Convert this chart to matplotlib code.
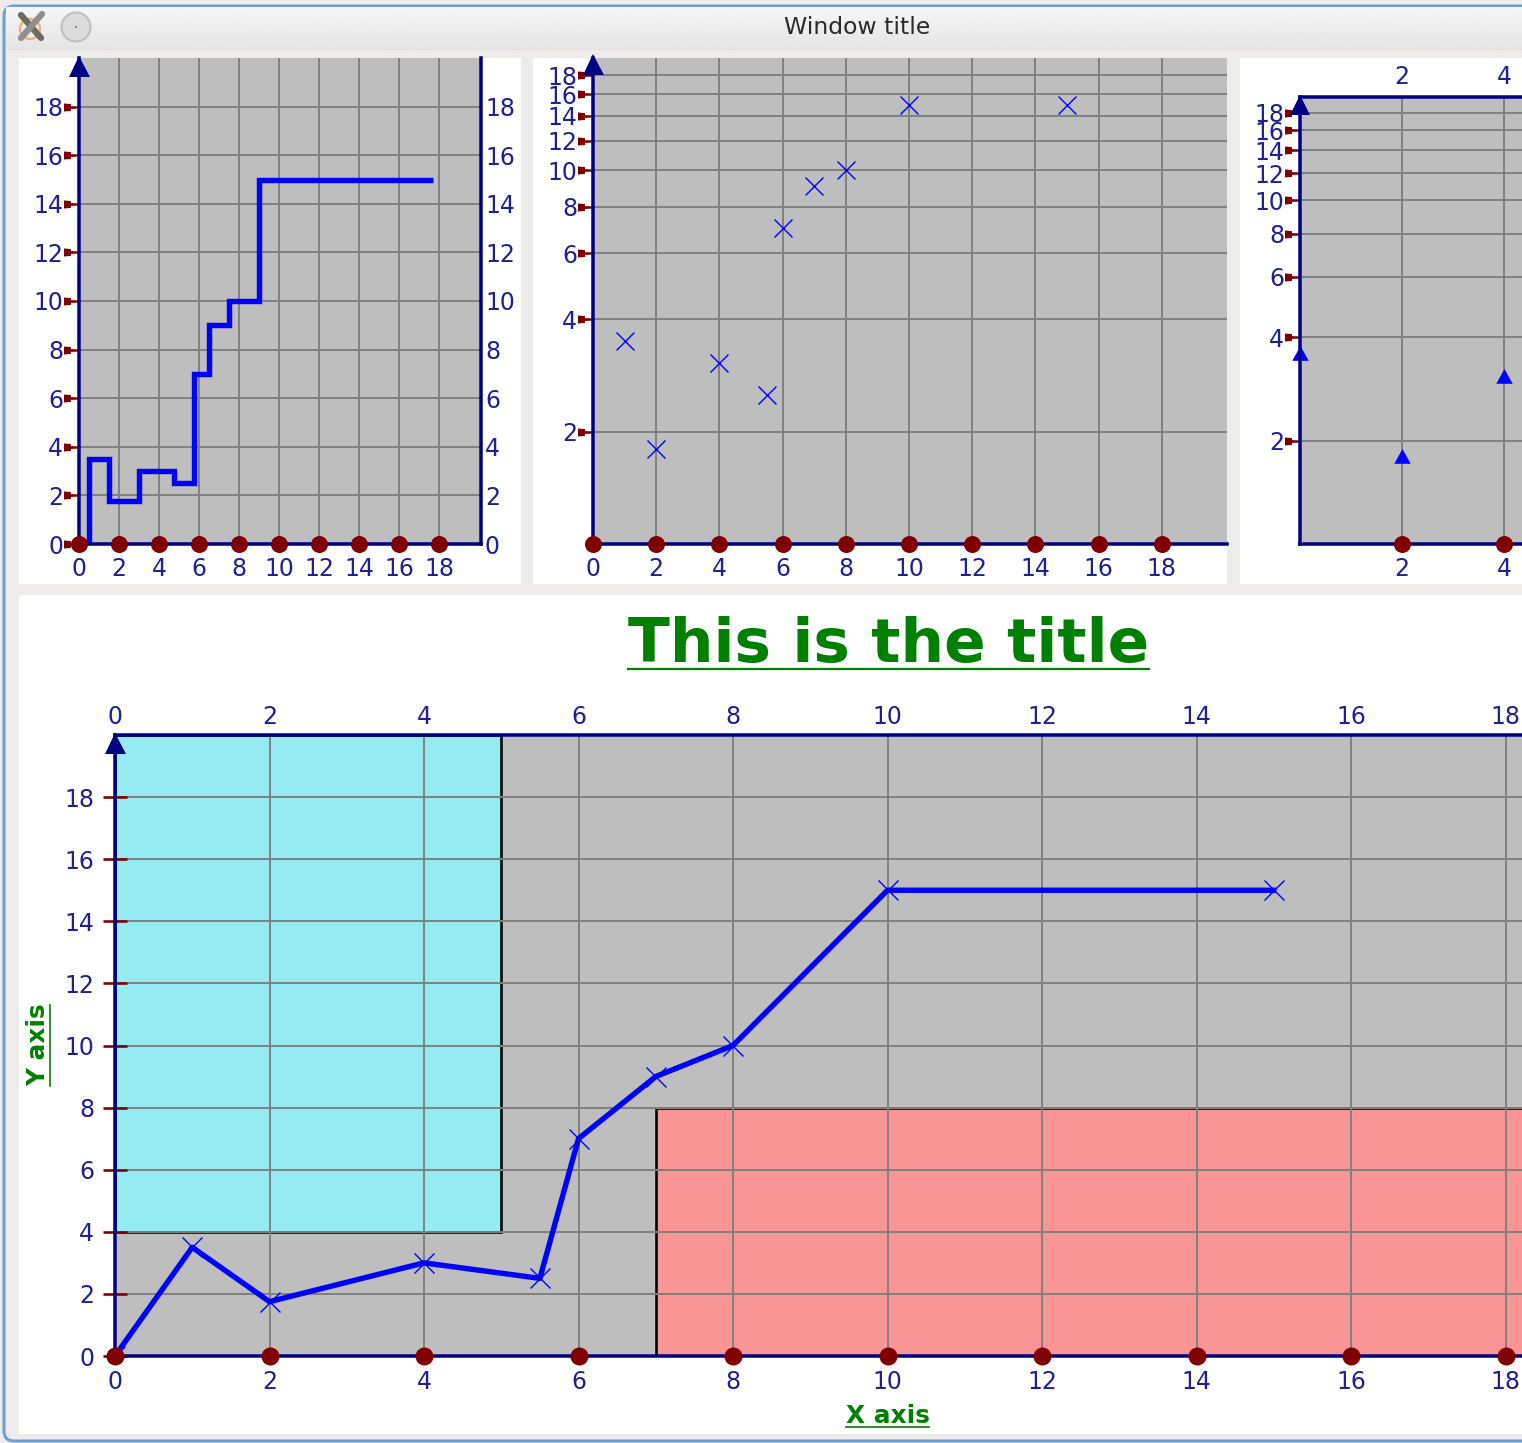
import numpy as np
import matplotlib
matplotlib.use("Agg")
import matplotlib.pyplot as plt
from matplotlib.path import Path
from matplotlib.patches import Rectangle, Circle, FancyBboxPatch
from matplotlib.lines import Line2D
from matplotlib.ticker import NullLocator, FixedLocator, FixedFormatter
from matplotlib.transforms import ScaledTranslation

plt.rcParams['font.family'] = ['DejaVu Sans']

# ---------- data ----------
x_values = [0, 1, 2, 4, 5.5, 6, 7, 8, 10, 15]
y_values = [0, 3.5, 1.75, 3, 2.5, 7, 9, 10, 15, 15]
step_edges = [0, 0.5, 1.5, 3, 4.75, 5.75, 6.5, 7.5, 9, 17.7]
step_levels = [0, 3.5, 1.75, 3, 2.5, 7, 9, 10, 15]
scatter_x = [1, 2, 4, 5.5, 6, 7, 8, 10, 15]
scatter_y = [3.5, 1.8, 3.05, 2.5, 7, 9.1, 10, 15, 15]
triangle_y = [3.5, 1.75, 3, 2.5, 7, 9, 10, 15, 15]
ticks = [0, 2, 4, 6, 8, 10, 12, 14, 16, 18]
ticks_no_zero = ticks[1:]
loglog_xticks = [2, 4]
region_cyan = (0, 4, 5, 16)
region_red = (7, 0, 13, 8)

W, H = 1522, 1443
NAVY = '#000080'; DARKRED = '#800000'; BLUE = '#0000ff'; GRID = '#808080'
BG = '#bebebe'; LABEL = '#20208f'; GREEN = '#008000'; WIN = '#edecea'
FS = 17
PX = 72 / 100

fig = plt.figure(figsize=(W / 100, H / 100), dpi=100, facecolor=WIN)

# ---------- window chrome ----------
bg = fig.add_axes([0, 0, 1, 1], zorder=-5)
bg.set_xlim(0, W); bg.set_ylim(H, 0); bg.axis('off')
bg.add_patch(FancyBboxPatch((4, 6), W + 40, H - 8, boxstyle='round,pad=0,rounding_size=10',
                            fc=WIN, ec='#6f9fd0', lw=2.2))
grad = np.linspace(0.965, 0.895, 60)[:, None]
bg.imshow(grad, extent=(6, W, 50, 7), cmap='gray', vmin=0, vmax=1, aspect='auto', zorder=1)
bg.set_xlim(0, W); bg.set_ylim(H, 0)
for (x0, y0, x1, y1) in [(19, 58, 521, 584), (533, 58, 1227, 584),
                         (1240, 58, W, 584), (19, 595, W, 1434)]:
    bg.add_patch(Rectangle((x0, y0), x1 - x0, y1 - y0, fc='white', ec='none', zorder=2))
bg.add_patch(Circle((76, 27), 14.5, fc='#dcdcdc', ec='#c0c0c0', lw=1.5, zorder=3))
bg.add_patch(Circle((76, 27), 1, fc='#777777', ec='none', zorder=4))
bg.add_patch(Circle((30, 29), 10, fc='none', ec='#eab070', lw=1.6, zorder=3))
bg.plot([21, 41], [15, 38], color='#6b6b5e', lw=4.5, zorder=4, solid_capstyle='round')
bg.plot([42, 21], [14, 38], color='#8f8f8f', lw=4.5, zorder=4, solid_capstyle='round')
bg.text(857, 27, 'Window title', color='#2a2a2a', fontsize=16.9, ha='center', va='center', zorder=5)

# ---------- helpers ----------
flag = Path([(-1, 0.26), (-0.55, 0.22), (-0.55, 0.09), (0, 0.07), (0, -0.07), (-0.55, -0.09),
             (-0.55, -0.22), (-1, -0.26), (-1, 0.26)], closed=True)
data_triangle = Path([(-1, -0.4), (1, -0.4), (0, 1.4), (-1, -0.4)], closed=True)


def make_axes(x0, y0, x1, y1, xlim, ylim, xlog=False, ylog=False):
    ax = fig.add_axes([x0 / W, 1 - y1 / H, (x1 - x0) / W, (y1 - y0) / H], facecolor=BG)
    if xlog:
        ax.set_xscale('log')
    if ylog:
        ax.set_yscale('log')
    ax.set_xlim(*xlim); ax.set_ylim(*ylim)
    ax.xaxis.set_minor_locator(NullLocator()); ax.yaxis.set_minor_locator(NullLocator())
    ax.set_axisbelow(True)
    ax.grid(True, color=GRID, lw=1.4)
    for s in ax.spines.values():
        s.set_visible(False)
    return ax


def set_ticks(ax, xt, yt, xpad=9.7, ypad=11.5, fs=FS):
    ax.xaxis.set_major_locator(FixedLocator(xt))
    ax.xaxis.set_major_formatter(FixedFormatter([str(t) for t in xt]))
    ax.yaxis.set_major_locator(FixedLocator(yt))
    ax.yaxis.set_major_formatter(FixedFormatter([str(t) for t in yt]))
    ax.tick_params(axis='x', length=0, pad=xpad, labelsize=fs, labelcolor=LABEL)
    ax.tick_params(axis='y', length=0, pad=ypad, labelsize=fs, labelcolor=LABEL)


def decorate(ax, xt, yt, xbase, ybase, lw=3.5, circ=17, ticks_flag=True):
    for sp in ('left', 'bottom'):
        ax.spines[sp].set_visible(True)
        ax.spines[sp].set_color(NAVY)
        ax.spines[sp].set_linewidth(lw * PX)
        ax.spines[sp].set_zorder(6)
    ax.plot(xt, [ybase] * len(xt), ls='none', marker='o', ms=circ * PX, mfc=DARKRED, mec=DARKRED,
            mew=0, clip_on=False, zorder=8)
    if ticks_flag:
        ax.plot([xbase] * len(yt), yt, ls='none', marker=flag, ms=31 * PX, mfc=DARKRED, mec=DARKRED,
                mew=0, clip_on=False, zorder=5)


def shift_top_labels(ax, px):
    for t in ax.xaxis.get_major_ticks():
        t.label2.set_transform(t.label2.get_transform()
                               + ScaledTranslation(0, -px * PX / 72, fig.dpi_scale_trans))


# ---------- top-left: stepped line ----------
a1 = make_axes(79, 58, 481, 544, (0, 20.1), (0, 20))
set_ticks(a1, ticks, ticks)
a1.tick_params(axis='y', labelright=True, labelleft=True)
a1.stairs(step_levels, step_edges, baseline=None, color=BLUE, lw=3.9, zorder=3)
decorate(a1, ticks, ticks, 0, 0)
a1.spines['right'].set_visible(True); a1.spines['right'].set_color(NAVY)
a1.spines['right'].set_linewidth(3.5 * PX)
a1.plot([0], [19.68], ls='none', marker='^', ms=21 * PX, mfc=NAVY, mew=0, clip_on=False, zorder=9)
for t in a1.yaxis.get_major_ticks():
    t.label2.set_transform(t.label2.get_transform()
                           + ScaledTranslation(-12 * PX / 72, 0, fig.dpi_scale_trans))

# ---------- top-middle: crosses, log y ----------
a2 = make_axes(593, 58, 1227, 544, (0, 20.06), (1, 20), ylog=True)
set_ticks(a2, ticks, ticks_no_zero)
a2.plot(scatter_x, scatter_y, ls='none', marker='x', ms=18 * PX, mew=1.0, color=BLUE, zorder=3)
decorate(a2, ticks, ticks_no_zero, 0, 1)
a2.plot([0], [19.3], ls='none', marker='^', ms=21 * PX, mfc=NAVY, mew=0, clip_on=False, zorder=9)

# ---------- top-right: triangles, log-log ----------
a3 = make_axes(1300, 97, 1300 + 102 * np.log2(20), 544, (1, 20), (1, 20), xlog=True, ylog=True)
set_ticks(a3, loglog_xticks, ticks_no_zero)
a3.tick_params(axis='x', labeltop=True)
shift_top_labels(a3, 5)
a3.plot(scatter_x, triangle_y, ls='none', marker=data_triangle, ms=23 * PX, mfc=BLUE, mec=BLUE, mew=0,
        clip_on=False, zorder=5)
decorate(a3, loglog_xticks, ticks_no_zero, 1, 1)
a3.spines['top'].set_visible(True); a3.spines['top'].set_color(NAVY)
a3.spines['top'].set_linewidth(3.5 * PX)
a3.plot([1], [18.9], ls='none', marker='^', ms=20 * PX, mfc=NAVY, mew=0, clip_on=False, zorder=9)

# ---------- bottom: main plot ----------
a4 = make_axes(115, 735, 115 + 77.25 * 20, 1356, (0, 20), (0, 20))
set_ticks(a4, ticks, ticks, xpad=10, ypad=15)
a4.tick_params(axis='x', labeltop=True)
shift_top_labels(a4, 8)
for reg, col in ((region_cyan, '#94ebf2'), (region_red, '#fa9595')):
    a4.add_patch(Rectangle(reg[:2], reg[2], reg[3], fc=col, ec='black', lw=2.6 * PX, zorder=0.2))
a4.plot(x_values, y_values, color=BLUE, lw=3.9, marker='x', ms=20 * PX, mew=1.0, mec=BLUE, zorder=3)
decorate(a4, ticks, ticks, 0, 0, lw=3.5, circ=18, ticks_flag=False)
a4.plot([0] * len(ticks), ticks, ls='none', marker='_', ms=24 * PX, mew=2.6 * PX, color=DARKRED,
        clip_on=False, zorder=5)
a4.spines['top'].set_visible(True); a4.spines['top'].set_color(NAVY)
a4.spines['top'].set_linewidth(3.5 * PX)
a4.plot([0], [19.75], ls='none', marker='^', ms=21 * PX, mfc=NAVY, mew=0, clip_on=False, zorder=9)

# ---------- titles ----------
fig.text(888.5 / W, 1 - 645 / H, 'This is the title', color=GREEN, fontsize=44.2, fontweight='bold',
         ha='center', va='center')
fig.add_artist(Line2D([628 / W, 1149 / W], [1 - 669 / H] * 2, color=GREEN, lw=1.6))
fig.text(887.5 / W, 1 - 1416 / H, 'X axis', color=GREEN, fontsize=17.8, fontweight='bold',
         ha='center', va='center')
fig.add_artist(Line2D([846 / W, 929 / W], [1 - 1427 / H] * 2, color=GREEN, lw=1.2))
fig.text(38 / W, 1 - 1045 / H, 'Y axis', color=GREEN, fontsize=17.8, fontweight='bold',
         ha='center', va='center', rotation=90)
fig.add_artist(Line2D([50 / W, 50 / W], [1 - 1005 / H, 1 - 1086 / H], color=GREEN, lw=1.2))

fig.savefig('out.png', dpi=100, facecolor=fig.get_facecolor())
